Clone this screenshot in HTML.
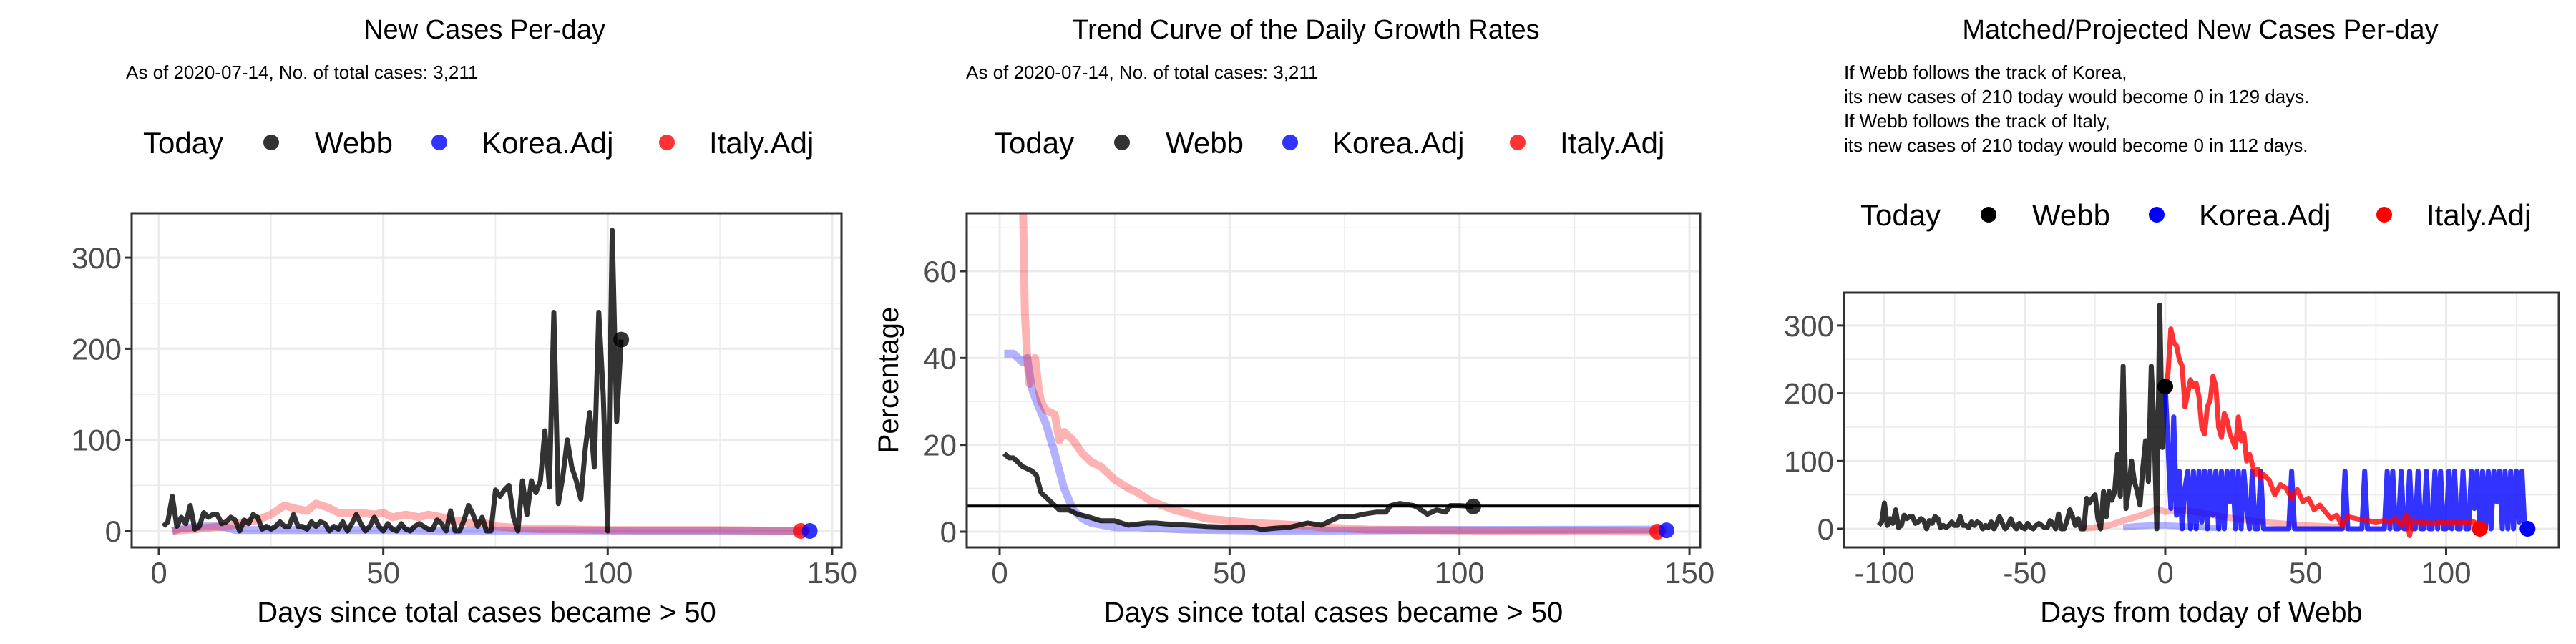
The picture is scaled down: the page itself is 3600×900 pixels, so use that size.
<!DOCTYPE html>
<html><head><meta charset="utf-8"><style>
html,body{margin:0;padding:0;background:#fff;}
svg{display:block;font-family:"Liberation Sans",Arial,sans-serif;}
</style></head><body>
<svg id="chart" width="3600" height="900" viewBox="0 0 3600 900" xmlns="http://www.w3.org/2000/svg">
<defs>
<clipPath id="c1"><rect x="184" y="298" width="992" height="467"/></clipPath>
<clipPath id="c2"><rect x="1351" y="298" width="1025" height="467"/></clipPath>
<clipPath id="c3"><rect x="2577" y="409" width="999" height="356"/></clipPath>
</defs>
<text x="677" y="54" font-size="38" text-anchor="middle">New Cases Per-day</text>
<text x="176" y="110" font-size="26">As of 2020-07-14, No. of total cases: 3,211</text>
<text x="1825" y="54" font-size="38" text-anchor="middle">Trend Curve of the Daily Growth Rates</text>
<text x="1350" y="110" font-size="26">As of 2020-07-14, No. of total cases: 3,211</text>
<text x="3075" y="54" font-size="38" text-anchor="middle">Matched/Projected New Cases Per-day</text>
<g font-size="26">
<text x="2577" y="110">If Webb follows the track of Korea,</text>
<text x="2577" y="144">its new cases of 210 today would become 0 in 129 days.</text>
<text x="2577" y="178">If Webb follows the track of Italy,</text>
<text x="2577" y="212">its new cases of 210 today would become 0 in 112 days.</text>
</g>
<g id="layer"></g>
</svg>
<script>
// ---- data ----
const webbDaily = [5,10,38,5,15,8,28,2,5,20,15,18,18,8,10,15,12,0,12,8,18,15,2,5,2,5,10,5,5,18,5,5,2,10,5,10,8,0,5,2,10,0,8,18,8,0,5,15,5,0,8,2,0,8,2,0,5,8,5,2,2,12,8,0,22,0,0,12,28,18,5,15,0,0,45,38,45,50,15,0,55,18,55,42,55,110,48,240,30,60,100,70,55,35,90,130,70,240,150,0,330,120,210];
const koreaDays1 = [3,5,8,10,13,15,17,20,25,30,40,50,60,80,100,120,145];
const koreaVals1 = [0,3,4,5,5,4,1,1,1,1,1,1,0.5,0.5,0.5,0.3,0];
const italyDays1 = [3,8,12,15,18,22,25,28,30,33,35,38,40,45,48,50,52,55,58,60,63,65,68,70,73,75,78,80,85,90,100,110,125,143];
const italyVals1 = [0,2,4,5,8,12,18,28,25,22,30,25,20,20,18,20,15,18,15,18,15,12,10,8,8,5,4,3,2,2,1,1,1,0];

const webbGrowthDays = [1,2,3,5,7,8,9,10,12,13,15,17,19,22,25,28,32,34,36,41,45,50,55,57,60,63,65,67,70,72,74,77,79,82,84,85,87,90,91,93,95,97,98,100,103];
const webbGrowthVals = [18,17,17,15,14,13,9,8,6,5,5,4,3.5,2.5,2.5,1.5,2,2,1.8,1.5,1.2,1,1,0.5,0.8,1,1.5,2,1.5,2.5,3.5,3.5,4,4.5,4.5,6,6.5,6,5.5,4,5,4.5,6,6,5.8];
const koreaGrowthDays = [1,3,5,6,7,8,10,12,14,16,18,20,25,30,40,60,80,100,145];
const koreaGrowthVals = [41,41,39,40,33,30,25,18,10,5,3,2,1,1,0.5,0.2,0.3,0.4,0.5];
const italyGrowthDays = [1,4,5,5.5,6,6.5,7,7.7,8.5,9,10,12,13,14,16,18,20,22,25,28,30,33,38,45,50,55,65,70,80,100,143];
const italyGrowthVals = [80,80,80,50,40,34,38,40,33,30,28,27,21,23,21,18,16,15,12,10,9,7,5,3,2.5,2,1.5,1,0.5,0.3,0];
const thresholdValue = 5.9;

const koreaProj = [210,120,30,165,20,85,0,60,85,0,85,0,85,10,85,0,85,20,85,0,85,0,85,40,85,0,85,0,85,30,0,85,0,0,85,0,0,0,0,0,0,0,0,0,0,85,0,0,0,0,0,0,0,0,0,0,0,0,0,0,0,0,0,0,85,0,0,0,0,0,0,85,0,0,0,0,0,0,0,85,0,85,0,0,85,0,0,85,0,0,85,0,0,85,0,0,85,0,85,0,0,85,0,85,0,0,85,0,0,85,30,85,0,85,0,85,0,85,40,85,0,85,0,85,0,85,10,85,0,0];
const italyProjDays = [0,1,2,3,4,5,6,7,8,9,10,11,12,13,14,15,16,17,18,19,20,21,22,23,24,25,26,27,28,29,30,31,32,33,34,35,37,39,41,43,45,47,49,51,53,55,57,59,61,63,65,68,72,75,78,80,82,84,86,87,88,90,95,100,105,110,112];
const italyProjVals = [210,230,295,275,270,250,240,180,200,220,210,215,195,150,140,180,190,225,210,150,135,170,160,140,130,120,165,130,140,100,110,95,80,88,75,80,72,50,65,60,45,58,40,45,28,35,25,15,20,5,18,15,12,10,12,10,15,5,20,-10,12,10,8,10,10,10,0];
const koreaPreDays = [-15,-10,-5,-2,0,5,10,15,20];
const koreaPreVals = [2,4,5,5,5,4,3,2,1];
const italyPreDays = [-30,-25,-20,-15,-10,-5,-3,0,5,10,15,20,25,30,40,50,60,65];
const italyPreVals = [0,2,5,12,18,25,30,25,28,25,22,18,15,12,8,5,3,2];

const xTicks12 = [0,50,100,150], xMinor12=[25,75,125];
const yTicks1 = [0,100,200,300], yMinor1=[50,150,250];
const yTicks2 = [0,20,40,60], yMinor2=[10,30,50,70];
const xTicks3 = [-100,-50,0,50,100], xMinor3=[-75,-25,25,75,125];

// ---- helpers ----
const NS='http://www.w3.org/2000/svg';
const layer=document.getElementById('layer');
function el(tag,attrs,parent){const e=document.createElementNS(NS,tag);for(const k in attrs)e.setAttribute(k,attrs[k]);(parent||layer).appendChild(e);return e;}
function lin(px0,v0,per){return v=>px0+(v-v0)*per;}
const P=[
 {box:[184,298,1176,765],x:lin(222,0,6.273),y:lin(742,0,-1.273),clip:'c1',xt:xTicks12,xm:xMinor12,yt:yTicks1,ym:yMinor1,xl:'Days since total cases became > 50'},
 {box:[1351,298,2376,765],x:lin(1397,0,6.427),y:lin(743,0,-6.067),clip:'c2',xt:xTicks12,xm:xMinor12,yt:yTicks2,ym:yMinor2,xl:'Days since total cases became > 50'},
 {box:[2577,409,3576,765],x:lin(3026,0,3.925),y:lin(739,0,-0.947),clip:'c3',xt:xTicks3,xm:xMinor3,yt:yTicks1,ym:yMinor1,xl:'Days from today of Webb'}
];
P.forEach((p,i)=>{
 const [l,t,r,b]=p.box;
 const g=el('g',{'clip-path':'url(#'+p.clip+')'});
 
 
 p.ym.forEach(v=>el('line',{x1:l,x2:r,y1:p.y(v),y2:p.y(v),stroke:'#ebebeb','stroke-width':1.5},g));
 p.xm.forEach(v=>el('line',{y1:t,y2:b,x1:p.x(v),x2:p.x(v),stroke:'#ebebeb','stroke-width':1.5},g));
 p.yt.forEach(v=>el('line',{x1:l,x2:r,y1:p.y(v),y2:p.y(v),stroke:'#ebebeb','stroke-width':3},g));
 p.xt.forEach(v=>el('line',{y1:t,y2:b,x1:p.x(v),x2:p.x(v),stroke:'#ebebeb','stroke-width':3},g));
 p.g=el('g',{'clip-path':'url(#'+p.clip+')'});
 
 
 const ax=el('g',{});
 
 
 p.ax=ax;
 p.yt.forEach(v=>{el('line',{x1:l-10,x2:l,y1:p.y(v),y2:p.y(v),stroke:'#333','stroke-width':3},ax);
   const tx=el('text',{x:l-14,y:p.y(v)+15,'font-size':42,fill:'#4d4d4d','text-anchor':'end'},ax);tx.textContent=v;
   
   });
 p.xt.forEach(v=>{el('line',{y1:b,y2:b+10,x1:p.x(v),x2:p.x(v),stroke:'#333','stroke-width':3},ax);
   const tx=el('text',{x:p.x(v),y:b+50,'font-size':42,fill:'#4d4d4d','text-anchor':'middle'},ax);tx.textContent=v;
   
   });
 const xt=el('text',{x:(l+r)/2,y:b+104,'font-size':40,'text-anchor':'middle'},ax);xt.textContent=p.xl;
 
 
});
function line(p,xs,ys,color,w,name){
 const d=xs.map((x,i)=>(i?'L':'M')+p.x(x).toFixed(1)+','+p.y(ys[i]).toFixed(1)).join('');
 const e=el('path',{d:d,fill:'none',stroke:color,'stroke-width':w,'stroke-linejoin':'round'},p.g);
 
 
}
function dot(p,x,y,color,name){
 const e=el('circle',{cx:p.x(x),cy:p.y(y),r:11,fill:color},p.g);
 
 
}
const webbDays=webbDaily.map((v,i)=>i+1);
// panel 1
line(P[0],koreaDays1,koreaVals1,'rgba(0,0,255,0.3)',11,'korea-adj-line');
line(P[0],italyDays1,italyVals1,'rgba(255,0,0,0.3)',11,'italy-adj-line');
line(P[0],webbDays,webbDaily,'rgba(0,0,0,0.8)',7,'webb-line');
dot(P[0],103,210,'rgba(0,0,0,0.8)','webb-today-point');
dot(P[0],143,0,'rgba(255,0,0,0.8)','italy-end-point');
dot(P[0],145,0,'rgba(0,0,255,0.8)','korea-end-point');
// panel 2
line(P[1],koreaGrowthDays,koreaGrowthVals,'rgba(0,0,255,0.3)',11,'korea-growth-line');
line(P[1],italyGrowthDays,italyGrowthVals,'rgba(255,0,0,0.3)',11,'italy-growth-line');
line(P[1],webbGrowthDays,webbGrowthVals,'rgba(0,0,0,0.8)',7,'webb-growth-line');
{const e=el('line',{x1:1351,x2:2376,y1:P[1].y(thresholdValue),y2:P[1].y(thresholdValue),stroke:'#000','stroke-width':4},P[1].g);
 
 }
dot(P[1],103,5.8,'rgba(0,0,0,0.8)','webb-today-point');
dot(P[1],143,0,'rgba(255,0,0,0.8)','italy-end-point');
dot(P[1],145,0.3,'rgba(0,0,255,0.8)','korea-end-point');
// panel 3
line(P[2],italyPreDays,italyPreVals,'rgba(255,0,0,0.3)',9,'italy-matched-line');
line(P[2],koreaPreDays,koreaPreVals,'rgba(0,0,255,0.3)',9,'korea-matched-line');
line(P[2],webbDaily.map((v,i)=>i+1-103),webbDaily,'rgba(0,0,0,0.8)',7,'webb-line');
line(P[2],koreaProj.map((v,i)=>i),koreaProj,'rgba(0,0,255,0.8)',7,'korea-projection-line');
line(P[2],italyProjDays,italyProjVals,'rgba(255,0,0,0.8)',7,'italy-projection-line');
dot(P[2],0,210,'#000','webb-today-point');
dot(P[2],112,0,'#f00','italy-end-point');
dot(P[2],129,0,'#00f','korea-end-point');
// borders
P.forEach((p,i)=>{const [l,t,r,b]=p.box;el('rect',{x:l,y:t,width:r-l,height:b-t,fill:'none',stroke:'#333','stroke-width':3},p.ax);});
// y title panel 2
{const e=el('text',{x:0,y:0,'font-size':40,'text-anchor':'middle',transform:'translate(1255,531) rotate(-90)'});
 e.textContent='Percentage';
 
 }
// legends
function legend(x0,y,solid,idx){
 const g=el('g',{});
 
 
 const t=el('text',{x:x0,y:y+15,'font-size':42},g);t.textContent='Today';
 const cols=solid?['#000','#00f','#f00']:['rgba(0,0,0,0.8)','rgba(0,0,255,0.8)','rgba(255,0,0,0.8)'];
 const labs=['Webb','Korea.Adj','Italy.Adj'];
 const dx=[179,414,732],lx=[240,473,791];
 labs.forEach((s,i)=>{
  const c=el('circle',{cx:x0+dx[i],cy:y,r:11,fill:cols[i]},g);
  
  
  const tt=el('text',{x:x0+lx[i],y:y+15,'font-size':42},g);tt.textContent=s;
  
  
 });
}
legend(200,199,false,1);
legend(1389,199,false,2);
legend(2600,300,true,3);
</script>
</body></html>
